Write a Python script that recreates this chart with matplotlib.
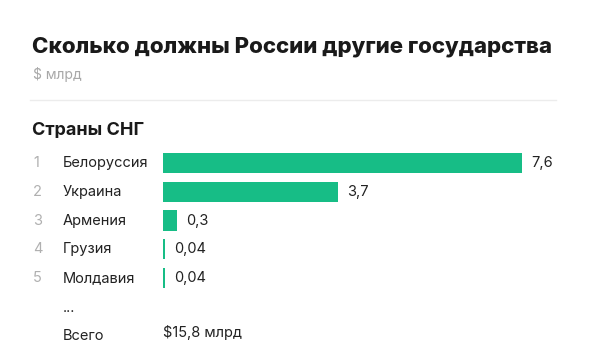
import matplotlib.pyplot as plt
import matplotlib.transforms as mtrans

plt.rcParams['font.family'] = ['Inter', 'DejaVu Sans']

# data
ranks = ['1', '2', '3', '4', '5']
countries = ['Белоруссия', 'Украина', 'Армения', 'Грузия', 'Молдавия']
debts = [7.6, 3.7, 0.3, 0.04, 0.04]
debt_labels = ['7,6', '3,7', '0,3', '0,04', '0,04']
total_label = '$15,8 млрд'

W, H = 590, 356
fig = plt.figure(figsize=(W / 100, H / 100), dpi=100)
fig.patch.set_facecolor('white')

def fx(px):
    return px / W

def fy(py):
    return 1 - py / H

# header
fig.text(fx(32), fy(47), 'Сколько должны России другие государства', fontsize=16,
         fontweight='heavy', color='#1a1a1a', va='center', ha='left')
fig.text(fx(33), fy(74), '$ млрд', fontsize=10, color='#a8a8a8', va='center', ha='left')
fig.add_artist(plt.Line2D([fx(30), fx(556)], [fy(100), fy(100)], color='#ececec', lw=1))
fig.text(fx(32), fy(130), 'Страны СНГ', fontsize=13, fontweight='bold',
         color='#1a1a1a', va='center', ha='left')

# bar area
row0, step = 163, 28.75
x0, ppu = 163, 47.24
xmax = 8.5
top = row0 - 0.5 * step
bottom = row0 + 6.5 * step
ax = fig.add_axes([fx(x0), fy(bottom), xmax * ppu / W, (bottom - top) / H])
ax.set_xlim(0, xmax)
ax.set_ylim(6.5, -0.5)
ax.axis('off')

ypos = list(range(len(countries)))
ax.barh(ypos, debts, height=0.7, color='#17bd86', left=0)

tr = mtrans.blended_transform_factory(fig.transFigure, ax.transData)
for i, (r, c, v, lab) in enumerate(zip(ranks, countries, debts, debt_labels)):
    ax.text(fx(33), i, r, transform=tr, fontsize=10.5, color='#b0b0b0', va='center', ha='left')
    ax.text(fx(63), i, c, transform=tr, fontsize=10.5, color='#222222', va='center', ha='left')
    ax.text(v + 0.2, i, lab, fontsize=10.5, color='#222222', va='center', ha='left')

ax.text(fx(63), 5.05, '...', transform=tr, fontsize=10.5, color='#222222', va='center', ha='left')
ax.text(fx(63), 6, 'Всего', transform=tr, fontsize=10.5, color='#222222', va='center', ha='left')
ax.text(0, 5.9, total_label, fontsize=10.5, color='#222222', va='center', ha='left')

fig.savefig('out.png', dpi=100)
